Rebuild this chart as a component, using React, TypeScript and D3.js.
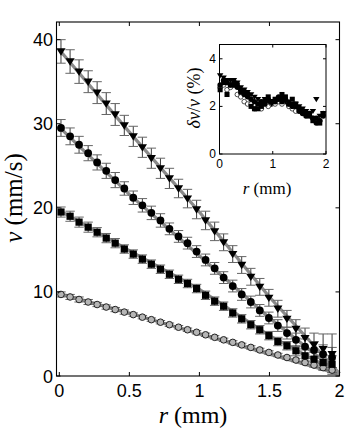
import React from 'react';
import * as d3 from 'd3';

// shared radial positions (mm)
const rVals = [0.012, 0.077, 0.141, 0.206, 0.270, 0.335, 0.399, 0.464, 0.528, 0.593, 0.657, 0.722, 0.786, 0.851, 0.915, 0.980,
  1.044, 1.109, 1.173, 1.238, 1.302, 1.367, 1.431, 1.496, 1.560, 1.625, 1.689, 1.754, 1.818, 1.883, 1.947];

// velocity (mm/s)
const triV = [38.6, 37.4, 36.2, 35.0, 33.7, 32.4, 31.1, 29.8, 28.5, 27.2, 25.9, 24.7, 23.5, 22.3, 21.1, 19.8,
  18.5, 17.2, 15.9, 14.5, 13.2, 11.8, 10.6, 9.3, 8.0, 6.8, 5.6, 4.5, 3.7, 3.2, 2.6];
const circV = [29.5, 28.5, 27.5, 26.5, 25.4, 24.4, 23.3, 22.3, 21.2, 20.3, 19.4, 18.5, 17.5, 16.6, 15.8, 14.8,
  13.8, 12.8, 11.7, 10.7, 9.7, 8.8, 7.8, 6.9, 6.0, 5.1, 4.3, 3.5, 3.1, 2.6, 2.2];
const sqV = [19.5, 19.0, 18.3, 17.7, 17.1, 16.4, 15.8, 15.1, 14.5, 13.9, 13.3, 12.7, 12.1, 11.5, 11.0, 10.4,
  9.6, 8.9, 8.3, 7.5, 6.8, 6.1, 5.5, 4.8, 4.1, 3.6, 3.0, 2.4, 2.0, 1.6, 1.4];
const openV = [9.7, 9.4, 9.1, 8.8, 8.5, 8.2, 7.9, 7.6, 7.3, 7.0, 6.7, 6.4, 6.1, 5.8, 5.5, 5.2,
  4.9, 4.6, 4.3, 4.0, 3.7, 3.4, 3.1, 2.8, 2.5, 2.2, 1.9, 1.6, 1.3, 1.0, 0.7];

// error bar half-lengths (mm/s)
const triErr = [1.4, 1.4, 1.4, 1.3, 1.3, 1.3, 1.3, 1.2, 1.2, 1.2, 1.2, 1.2, 1.2, 1.1, 1.1, 1.1,
  1.1, 1.1, 1.0, 1.0, 1.0, 1.0, 1.0, 1.0, 1.0, 1.0, 1.1, 1.2, 1.4, 1.8, 2.4];
const circErr = [1.0, 1.0, 1.0, 0.9, 0.9, 0.9, 0.9, 0.8, 0.8, 0.8, 0.8, 0.8, 0.7, 0.7, 0.7, 0.7,
  0.7, 0.7, 0.7, 0.7, 0.7, 0.7, 0.7, 0.7, 0.7, 0.7, 0.8, 0.9, 1.0, 1.1, 1.2];
const sqErr = [0.6, 0.6, 0.6, 0.6, 0.55, 0.55, 0.55, 0.5, 0.5, 0.5, 0.5, 0.5, 0.5, 0.5, 0.5, 0.5,
  0.5, 0.5, 0.5, 0.5, 0.5, 0.5, 0.5, 0.5, 0.5, 0.5, 0.6, 0.7, 0.8, 0.9, 1.0];
const openErr = [0.3, 0.3, 0.3, 0.3, 0.25, 0.25, 0.25, 0.25, 0.2, 0.2, 0.2, 0.2, 0.2, 0.2, 0.2, 0.2,
  0.2, 0.2, 0.2, 0.2, 0.2, 0.2, 0.2, 0.2, 0.2, 0.2, 0.2, 0.2, 0.25, 0.3, 0.3];

// fitted profiles (grey lines)
const fitR = [0, 0.5, 1, 1.5, 2];
const triFit = [38.8, 29.0, 19.5, 9.4, 0.3];
const circFit = [29.6, 21.6, 14.3, 6.9, 0.3];
const sqFit = [19.7, 14.9, 10.3, 4.8, 0.3];
const openFit = [9.8, 7.5, 5.0, 2.6, 0.2];

// inset: relative error dv/v (%)
const insTri = [3.3, 3.2, 3.1, 3.1, 3.1, 3.0, 2.8, 2.7, 2.6, 2.5, 2.4, 2.3, 2.2, 2.3, 2.2, 2.1,
  2.2, 2.3, 2.3, 2.2, 2.2, 2.1, 2.1, 2.0, 1.9, 1.8, 1.7, 1.8, 2.3, 1.6, 1.7];
const insCirc = [2.9, 3.1, 3.0, 2.9, 2.9, 2.8, 2.7, 2.5, 2.4, 2.3, 2.2, 2.1, 2.2, 2.2, 2.3, 2.2,
  2.2, 2.4, 2.2, 2.3, 2.1, 2.0, 2.0, 1.8, 1.7, 1.6, 1.7, 1.5, 1.3, 1.4, 1.6];
const insSq = [2.7, 3.0, 2.5, 2.9, 3.0, 2.9, 2.6, 2.6, 2.5, 2.0, 1.9, 1.9, 2.0, 2.1, 2.4, 2.2,
  2.3, 2.3, 2.5, 2.4, 2.1, 2.3, 2.1, 1.9, 1.8, 1.7, 1.6, 1.4, 1.5, 1.3, 1.7];
const insOpen = [2.8, 2.9, 2.7, 2.8, 2.9, 2.5, 2.4, 2.2, 2.1, 2.1, 1.9, 2.0, 1.9, 2.1, 2.0, 2.1,
  2.1, 2.2, 2.1, 2.2, 2.0, 1.9, 1.8, 1.9, 1.8, 1.7, 1.6, 1.5, 1.5, 1.4, 1.7];

const xTicks = [0, 0.5, 1, 1.5, 2];
const yTicks = [0, 10, 20, 30, 40];
const insXTicks = [0, 1, 2];
const insYTicks = [0, 2, 4];

const sansFam = '"Liberation Sans", Arial, sans-serif';
const serifFam = '"Liberation Serif", "Times New Roman", "DejaVu Serif", serif';
const sans = (size: number) => ({ fontFamily: sansFam, fontSize: size + 'px' });
const serif = (size: number) => ({ fontFamily: serifFam, fontSize: size + 'px' });

const x = d3.scaleLinear().domain([-0.02, 2]).range([56.5, 339.5]);
const y = d3.scaleLinear().domain([0, 42.1]).range([376, 22]);
const ix = d3.scaleLinear().domain([0, 2]).range([219.5, 326]);
const iy = d3.scaleLinear().domain([0, 4.6]).range([154, 44.5]);

const fitLine = d3.line<number>().x((_, i) => x(fitR[i])).y(d => y(d));

type Kind = 'tri' | 'circ' | 'sq' | 'open';

function Marker({ kind, cx, cy, s }: { kind: Kind; cx: number; cy: number; s: number }) {
  if (kind === 'tri') {
    const w = 4.6 * s, h = 4.2 * s;
    return <path d={`M${cx - w},${cy - h * 0.75}L${cx + w},${cy - h * 0.75}L${cx},${cy + h}Z`} fill="#000" />;
  }
  if (kind === 'circ') return <circle cx={cx} cy={cy} r={3.9 * s} fill="#000" />;
  if (kind === 'sq') return <rect x={cx - 3.6 * s} y={cy - 3.6 * s} width={7.2 * s} height={7.2 * s} fill="#000" />;
  return <circle cx={cx} cy={cy} r={3.3 * s} fill={s < 1 ? '#fff' : '#b5b5b5'} stroke="#222" strokeWidth={s < 1 ? 0.8 : 1} />;
}

const series: { kind: Kind; v: number[]; err: number[]; fit: number[]; ins: number[] }[] = [
  { kind: 'open', v: openV, err: openErr, fit: openFit, ins: insOpen },
  { kind: 'sq', v: sqV, err: sqErr, fit: sqFit, ins: insSq },
  { kind: 'circ', v: circV, err: circErr, fit: circFit, ins: insCirc },
  { kind: 'tri', v: triV, err: triErr, fit: triFit, ins: insTri },
];

export default function App() {
  const [x0, x1] = x.range();
  const [y0, y1] = y.range();
  const [ix0, ix1] = ix.range();
  const [iy0, iy1] = iy.range();
  return (
    <svg width={354} height={444} style={{ position: 'absolute', left: 0, top: 0, background: '#fff' }}>
      {/* fit lines */}
      {series.map(s => (
        <path key={'fit' + s.kind} d={fitLine(s.fit) || ''} fill="none" stroke="#8a8a8a" strokeWidth={3.2} />
      ))}
      {/* error bars */}
      {series.map(s => (
        <g key={'err' + s.kind} stroke="#3a3a3a" strokeWidth={1}>
          {s.v.map((v, i) => {
            const cx = x(rVals[i]);
            const t = y(v + s.err[i]);
            const b = y(v - s.err[i]);
            return (
              <g key={i}>
                <line x1={cx} x2={cx} y1={t} y2={b} />
                <line x1={cx - 4.7} x2={cx + 4.7} y1={t} y2={t} stroke="#666" />
                <line x1={cx - 4.7} x2={cx + 4.7} y1={b} y2={b} stroke="#666" />
              </g>
            );
          })}
        </g>
      ))}
      {/* markers */}
      {series.map(s => (
        <g key={'m' + s.kind}>
          {s.v.map((v, i) => <Marker key={i} kind={s.kind} cx={x(rVals[i])} cy={y(v)} s={1} />)}
        </g>
      ))}

      {/* main axes box */}
      <rect x={x0} y={y1} width={x1 - x0} height={y0 - y1} fill="none" stroke="#000" strokeWidth={1.1} />
      {xTicks.map(t => (
        <g key={'xt' + t}>
          <line x1={x(t)} x2={x(t)} y1={y0} y2={y0 - 4} stroke="#000" />
          <line x1={x(t)} x2={x(t)} y1={y1} y2={y1 + 4} stroke="#000" />
          <text x={x(t)} y={397} textAnchor="middle" style={sans(18)}>{t}</text>
        </g>
      ))}
      {yTicks.map(t => (
        <g key={'yt' + t}>
          <line x1={x0} x2={x0 + 4} y1={y(t)} y2={y(t)} stroke="#000" />
          <line x1={x1} x2={x1 - 4} y1={y(t)} y2={y(t)} stroke="#000" />
          <text x={53} y={y(t) + 6.5} textAnchor="end" style={sans(18)}>{t}</text>
        </g>
      ))}
      <text x={193} y={423} textAnchor="middle" style={serif(24)}>
        <tspan fontStyle="italic">r</tspan> (mm)
      </text>
      <text transform="translate(22,198) rotate(-90)" textAnchor="middle" style={serif(25)}>
        <tspan fontStyle="italic">v</tspan> (mm/s)
      </text>

      {/* inset */}
      <rect x={ix0} y={iy1} width={ix1 - ix0} height={iy0 - iy1} fill="#fff" stroke="#000" strokeWidth={1} />
      {series.map(s => (
        <g key={'i' + s.kind}>
          {s.ins.map((v, i) => <Marker key={i} kind={s.kind} cx={ix(rVals[i])} cy={iy(v)} s={0.7} />)}
        </g>
      ))}
      {insXTicks.map(t => (
        <g key={'ixt' + t}>
          <line x1={ix(t)} x2={ix(t)} y1={iy0} y2={iy0 - 3} stroke="#000" />
          <line x1={ix(t)} x2={ix(t)} y1={iy1} y2={iy1 + 3} stroke="#000" />
          <text x={ix(t)} y={168} textAnchor="middle" style={sans(12)}>{t}</text>
        </g>
      ))}
      {insYTicks.map(t => (
        <g key={'iyt' + t}>
          <line x1={ix0} x2={ix0 + 3} y1={iy(t)} y2={iy(t)} stroke="#000" />
          <line x1={ix1} x2={ix1 - 3} y1={iy(t)} y2={iy(t)} stroke="#000" />
          <text x={216} y={iy(t) + 4} textAnchor="end" style={sans(12)}>{t}</text>
        </g>
      ))}
      <text x={267} y={194} textAnchor="middle" style={serif(17)}>
        <tspan fontStyle="italic">r</tspan> (mm)
      </text>
      <text transform="translate(200,98) rotate(-90)" textAnchor="middle" style={serif(18)}>
        <tspan fontStyle="italic">δv</tspan>/<tspan fontStyle="italic">v</tspan> (%)
      </text>
    </svg>
  );
}
